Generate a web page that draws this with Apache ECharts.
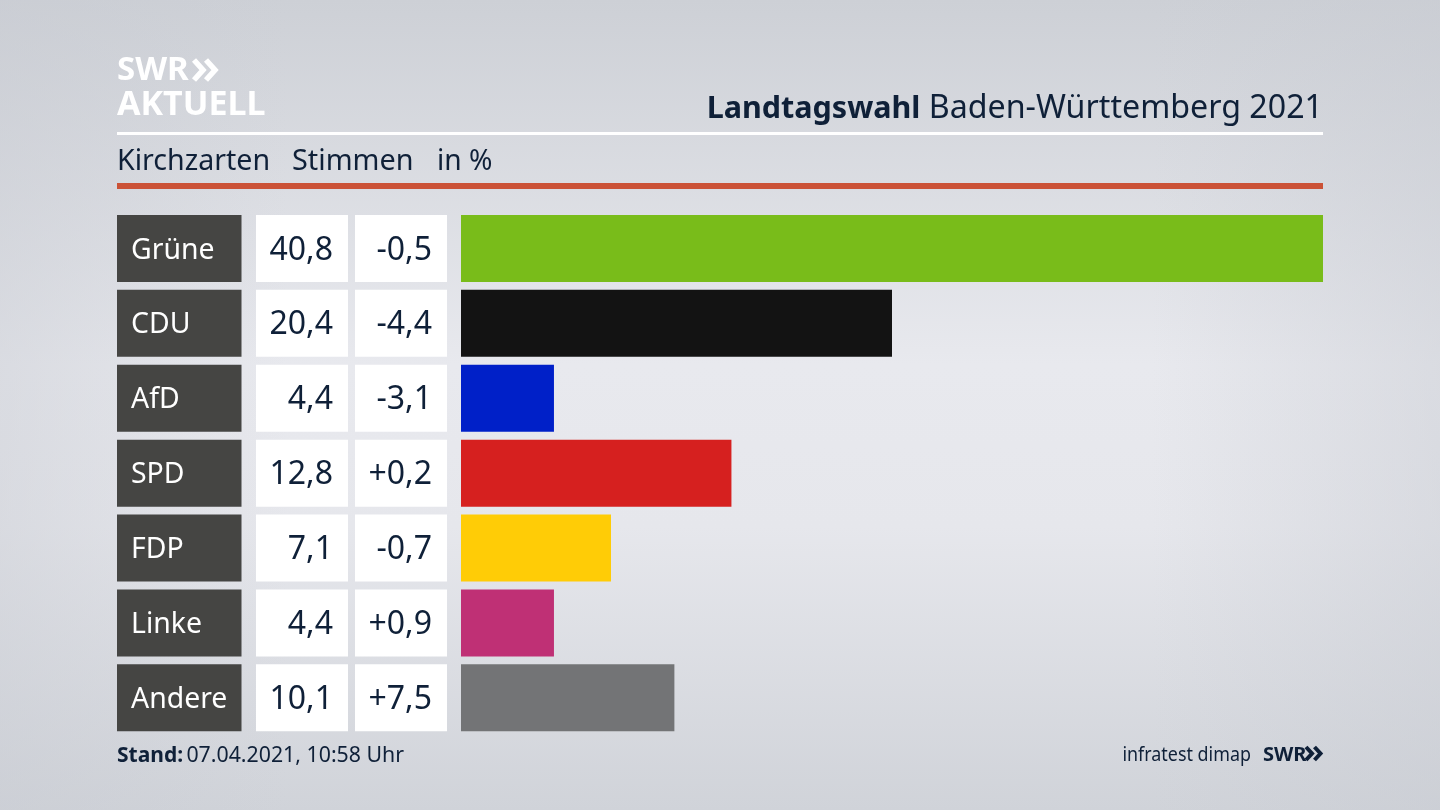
<!DOCTYPE html>
<html>
<head>
<meta charset="utf-8">
<style>
html,body{margin:0;padding:0;background:#dfe1e6}
#chart{width:1440px;height:810px}
</style>
<script src="https://cdn.jsdelivr.net/npm/echarts@6/dist/echarts.min.js"></script>
</head>
<body>
<div id="chart"></div>
<script>
const parties = ['Grüne','CDU','AfD','SPD','FDP','Linke','Andere'];
const shares = [40.8,20.4,4.4,12.8,7.1,4.4,10.1];
const changes = ['-0,5','-4,4','-3,1','+0,2','-0,7','+0,9','+7,5'];
const barColors = ['#79bc1a','#131313','#0020c8','#d6201f','#ffcc06','#bf3075','#737476'];

const FONT = '"Noto Sans"';
const INK = '#0f2038';
const chart = echarts.init(document.getElementById('chart'));

// left to right: party name, share, change, bars
const columns = [
    {left:117,width:124.5},
    {left:256,width:92},
    {left:355,width:92},
    {left:461,width:862}
];

function cellSeries(idx,color,textColor,pos,text){
    return {
        type:'bar',xAxisIndex:idx,yAxisIndex:idx,barWidth:67,silent:true,
        data:parties.map(function(){return 1}),
        itemStyle:{color:color},
        label:{show:true,position:pos,distance:pos=='insideLeft'?14:15,offset:[0,2],color:textColor,
            fontFamily:FONT,fontSize:idx==0?28.4:32,formatter:function(p){return text[p.dataIndex]}}
    };
}

function chevrons(x,y,h,w,gap,lw,color){
    const out = [];
    [0,1].forEach(function(i){
        const x0 = x+i*gap;
        out.push({type:'polyline',silent:true,
            shape:{points:[[x0,y],[x0+w,y+h/2],[x0,y+h]]},
            style:{stroke:color,lineWidth:lw,fill:null}});
    });
    return out;
}

const option = {
    animation:false,
    backgroundColor:{type:'linear',x:0,y:0,x2:0,y2:1,colorStops:[
        {offset:0,color:'#cdd0d6'},{offset:0.45,color:'#e8e9ee'},{offset:0.65,color:'#e6e7ec'},{offset:1,color:'#d0d3d9'}]},
    grid:columns.map(function(c){return {left:c.left,width:c.width,top:211,height:524.3}}),
    xAxis:columns.map(function(c,i){
        return {gridIndex:i,type:'value',min:0,max:i==3?40.8:1,show:false};
    }),
    yAxis:columns.map(function(c,i){
        return {gridIndex:i,type:'category',inverse:true,data:parties,show:false};
    }),
    series:[
        cellSeries(0,'#454543','#ffffff','insideLeft',parties),
        cellSeries(1,'#ffffff',INK,'insideRight',shares.map(function(v){return v.toFixed(1).replace('.',',')})),
        cellSeries(2,'#ffffff',INK,'insideRight',changes),
        {type:'bar',xAxisIndex:3,yAxisIndex:3,barWidth:67,silent:true,
            data:shares.map(function(v,i){return {value:v,itemStyle:{color:barColors[i]}}})}
    ],
    graphic:[
        {type:'rect',silent:true,z:-10,shape:{x:0,y:0,width:1440,height:810},style:{fill:{type:'linear',x:0,y:0,x2:1,y2:0,colorStops:[
            {offset:0,color:'rgba(200,203,210,0.45)'},{offset:0.2,color:'rgba(200,203,210,0)'},
            {offset:0.8,color:'rgba(200,203,210,0)'},{offset:1,color:'rgba(200,203,210,0.45)'}]}}},
        {type:'rect',silent:true,shape:{x:117,y:132,width:1206,height:3},style:{fill:'#ffffff'}},
        {type:'rect',silent:true,shape:{x:117,y:183,width:1206,height:6},style:{fill:'#cb5237'}},
        {type:'text',silent:true,style:{x:117,y:71,text:'SWR',fill:'#ffffff',font:'bold 33px '+FONT,verticalAlign:'middle'}},
        {type:'text',silent:true,style:{x:117,y:105,text:'AKTUELL',fill:'#ffffff',font:'bold 34px '+FONT,verticalAlign:'middle'}},
        {type:'text',silent:true,style:{x:1323,y:109,align:'right',verticalAlign:'middle',
            text:'{b|Landtagswahl}{r| Baden-Württemberg 2021}',
            rich:{b:{font:'bold 30.5px '+FONT,fill:INK},r:{font:'32.2px '+FONT,fill:INK}}}},
        {type:'text',silent:true,style:{x:117,y:162,text:'Kirchzarten',fill:INK,font:'28.6px '+FONT,verticalAlign:'middle'}},
        {type:'text',silent:true,style:{x:292,y:162,text:'Stimmen',fill:INK,font:'28.8px '+FONT,verticalAlign:'middle'}},
        {type:'text',silent:true,style:{x:437,y:162,text:'in %',fill:INK,font:'28.2px '+FONT,verticalAlign:'middle'}},
        {type:'text',silent:true,style:{x:117,y:756,verticalAlign:'middle',
            text:'{b|Stand:} {r|07.04.2021, 10:58 Uhr}',
            rich:{b:{font:'bold 21px '+FONT,fill:INK},r:{font:'21.3px '+FONT,fill:INK}}}},
        {type:'text',silent:true,x:1251,y:755,scaleX:0.895,style:{x:0,y:0,align:'right',verticalAlign:'middle',text:'infratest dimap',fill:INK,font:'20px '+FONT}},
        {type:'text',silent:true,style:{x:1263,y:755,verticalAlign:'middle',text:'SWR',fill:INK,font:'bold 20px '+FONT}}
    ].concat(chevrons(194,60,20,9,12,5.5,'#ffffff'),chevrons(1306,747,13,6,8.5,4,INK))
};
chart.setOption(option);
</script>
</body>
</html>
